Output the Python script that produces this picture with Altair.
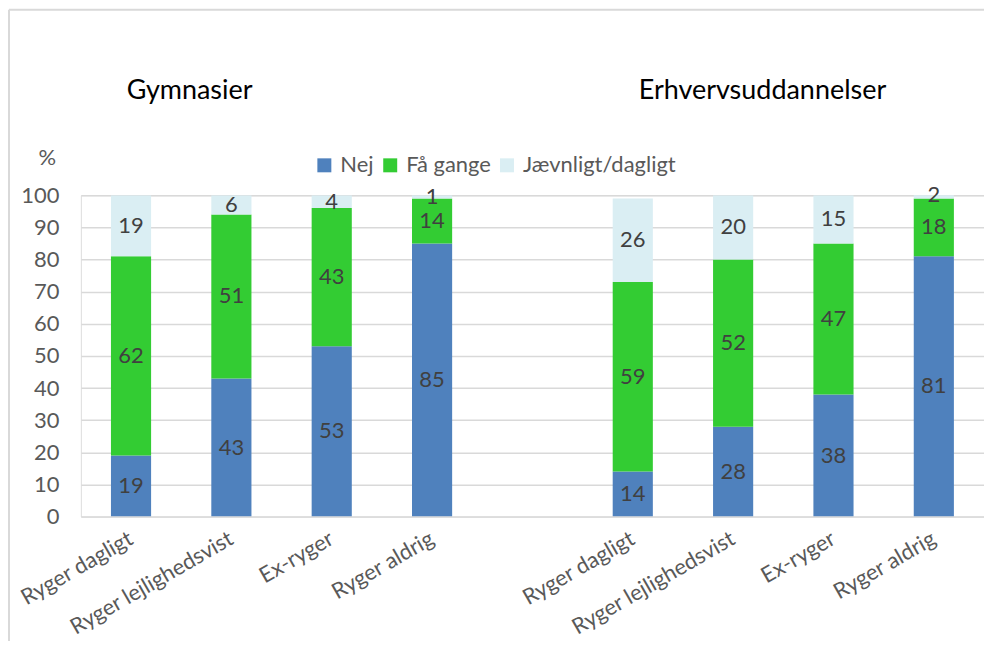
import altair as alt
import pandas as pd

groups = ["Gymnasier", "Erhvervsuddannelser"]
categories = ["Ryger dagligt", "Ryger lejlighedsvist", "Ex-ryger", "Ryger aldrig"]
series = ["Nej", "Få gange", "Jævnligt/dagligt"]

gym_nej = [19, 43, 53, 85]
gym_faa = [62, 51, 43, 14]
gym_jaevn = [19, 6, 4, 1]

erh_nej = [14, 28, 38, 81]
erh_faa = [59, 52, 47, 18]
erh_jaevn = [26, 20, 15, 2]

colors = ["#4F81BD", "#33CC33", "#DAEEF3"]
y_ticks = [0, 10, 20, 30, 40, 50, 60, 70, 80, 90, 100]

FONT = "Lato"
FS = 22

rows = []
for gi, vals in enumerate([(gym_nej, gym_faa, gym_jaevn), (erh_nej, erh_faa, erh_jaevn)]):
    for ci, c in enumerate(categories):
        for si, s in enumerate(series):
            rows.append({"key": f"{gi}|{c}", "series": s, "order": si, "value": vals[si][ci]})
df = pd.DataFrame(rows)

x_domain = [f"0|{c}" for c in categories] + ["gap"] + [f"1|{c}" for c in categories]

W, H = 905, 322

x_scale = alt.Scale(domain=x_domain, paddingInner=0.6, paddingOuter=0.3)
y_scale = alt.Scale(domain=[0, 100], nice=False)

x_axis = alt.Axis(
    title=None,
    labelExpr="split(datum.value, '|')[1] || ''",
    labelAngle=-30,
    labelAlign="right",
    labelBaseline="middle",
    labelPadding=20,
    labelFont=FONT,
    labelFontSize=FS,
    labelColor="#595959",
    labelOverlap=False,
    labelLimit=0,
    ticks=False,
    domain=False,
    grid=False,
)

y_axis = alt.Axis(
    values=y_ticks,
    tickCount=len(y_ticks) + 5,
    labelOverlap=False,
    title="%",
    titleAngle=0,
    titleX=-34,
    titleY=-38,
    titleAlign="center",
    titleBaseline="middle",
    titleFont=FONT,
    titleFontSize=FS,
    titleFontWeight="normal",
    titleColor="#595959",
    labelFont=FONT,
    labelFontSize=FS,
    labelColor="#595959",
    labelPadding=22,
    ticks=False,
    domain=False,
    grid=True,
    gridColor="#D9D9D9",
    gridWidth=1.5,
)

base = alt.Chart(df).transform_stack(
    stack="value", groupby=["key"], as_=["y0", "y1"], sort=[alt.SortField("order")]
).transform_calculate(mid="(datum.y0 + datum.y1) / 2")

bars = base.mark_bar(clip=True).encode(
    x=alt.X("key:N", scale=x_scale, axis=x_axis),
    y=alt.Y("y0:Q", scale=y_scale, axis=y_axis),
    y2="y1:Q",
    color=alt.Color(
        "series:N",
        scale=alt.Scale(domain=series, range=colors),
        legend=alt.Legend(
            title=None,
            orient="none",
            direction="horizontal",
            legendX=233,
            legendY=-41,
            symbolType="square",
            symbolSize=196,
            symbolStrokeWidth=0,
            labelFont=FONT,
            labelFontSize=FS,
            labelColor="#595959",
            labelOffset=5,
            columnPadding=5,
            padding=0,
        ),
    ),
)

labels = base.mark_text(font=FONT, fontSize=FS, color="#404040").encode(
    x=alt.X("key:N", scale=x_scale, axis=x_axis),
    y=alt.Y("mid:Q", scale=y_scale, axis=y_axis),
    text=alt.Text("value:Q"),
)

title1 = alt.Chart(pd.DataFrame({"t": [groups[0]]})).mark_text(
    font=FONT, fontSize=27, color="#000000", align="center", baseline="middle"
).encode(text="t:N", x=alt.value(109), y=alt.value(-104))

title2 = alt.Chart(pd.DataFrame({"t": [groups[1]]})).mark_text(
    font=FONT, fontSize=27, color="#000000", align="center", baseline="middle"
).encode(text="t:N", x=alt.value(683), y=alt.value(-104))

border_top = alt.Chart(pd.DataFrame({"t": [0]})).mark_rule(color="#D9D9D9", strokeWidth=2).encode(
    x=alt.value(-72), x2=alt.value(W + 20), y=alt.value(-186)
)
border_left = alt.Chart(pd.DataFrame({"t": [0]})).mark_rule(color="#D9D9D9", strokeWidth=2).encode(
    x=alt.value(-72), y=alt.value(-186), y2=alt.value(H + 140)
)

chart = alt.layer(border_top, border_left, bars, labels, title1, title2).properties(
    width=W,
    height=H,
    autosize=alt.AutoSizeParams(type="none"),
    padding={"left": 73, "top": 187, "right": 0, "bottom": 124},
).configure_view(stroke="transparent", strokeWidth=0).configure(background="white")

chart.save("out.html", embed_options={"renderer": "svg", "actions": False})
